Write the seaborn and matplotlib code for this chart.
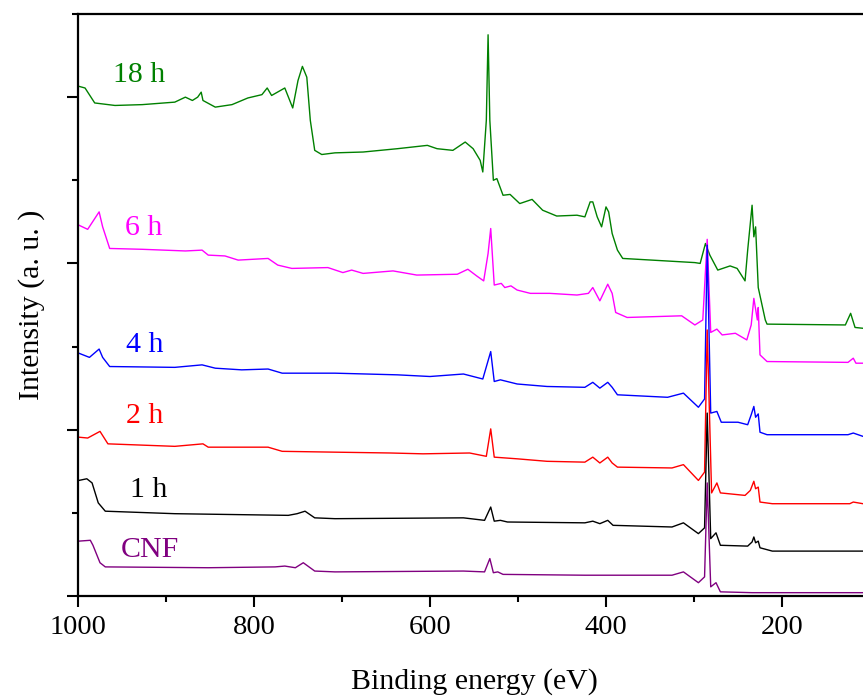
import numpy as np
import pandas as pd
import matplotlib
matplotlib.use("Agg")
import matplotlib.pyplot as plt
import seaborn as sns
from matplotlib.ticker import MultipleLocator, NullFormatter

# Espectros XPS, energía de enlace en eV
ev_18h = [999, 992, 981, 958, 927, 890, 878, 870, 864, 860, 858, 844, 825, 807, 791, 785, 780, 765,
          756, 750, 745, 740, 736, 731, 723, 708, 676, 637, 603, 592, 574, 560, 551, 543, 540, 536,
          534, 532, 528, 524, 517, 509, 498, 484, 472, 456, 433, 424, 418, 415, 410, 405, 400, 397,
          393, 387, 381, 348, 299, 293, 287, 282, 273, 259, 251, 242, 239, 234, 232, 230, 227, 219,
          217, 128, 122, 117, 108, 100]
i_18h = [6.13, 6.11, 5.93, 5.90, 5.91, 5.94, 6.00, 5.96, 6.00, 6.06, 5.96, 5.88, 5.91, 5.99, 6.03,
         6.11, 6.02, 6.11, 5.87, 6.20, 6.37, 6.24, 5.72, 5.36, 5.31, 5.33, 5.34, 5.38, 5.42, 5.38,
         5.36, 5.46, 5.38, 5.24, 5.10, 5.72, 6.75, 5.72, 5.00, 5.02, 4.82, 4.83, 4.72, 4.77, 4.64,
         4.57, 4.58, 4.56, 4.74, 4.74, 4.56, 4.44, 4.68, 4.62, 4.36, 4.16, 4.06, 4.04, 4.01, 4.00,
         4.24, 4.10, 3.92, 3.97, 3.94, 3.79, 4.16, 4.70, 4.32, 4.44, 3.71, 3.32, 3.27, 3.26, 3.40,
         3.23, 3.22, 3.22]

ev_6h = [999, 989, 976, 972, 964, 927, 878, 859, 852, 833, 818, 784, 773, 757, 716, 699, 689, 676,
         642, 615, 569, 557, 547, 539, 534, 531, 527, 519, 515, 508, 501, 486, 464, 433, 420, 415,
         407, 398, 393, 389, 376, 314, 299, 290, 285, 281, 274, 268, 253, 240, 235, 232, 228, 227,
         225, 217, 125, 119, 116, 108, 100]
i_6h = [4.46, 4.41, 4.62, 4.44, 4.18, 4.17, 4.15, 4.16, 4.10, 4.09, 4.04, 4.06, 3.98, 3.94, 3.95,
        3.89, 3.92, 3.88, 3.91, 3.86, 3.87, 3.93, 3.85, 3.79, 4.12, 4.42, 3.74, 3.76, 3.71, 3.73,
        3.68, 3.64, 3.64, 3.62, 3.64, 3.71, 3.55, 3.75, 3.64, 3.41, 3.35, 3.37, 3.26, 3.32, 4.29,
        3.17, 3.21, 3.14, 3.16, 3.08, 3.26, 3.58, 3.32, 3.47, 2.90, 2.82, 2.81, 2.86, 2.80, 2.80,
        2.80]

ev_4h = [999, 987, 976, 972, 964, 890, 859, 844, 814, 784, 768, 708, 637, 600, 562, 540, 531, 527,
         520, 501, 467, 424, 415, 407, 398, 393, 387, 330, 312, 295, 288, 285, 281, 274, 269, 250,
         239, 235, 232, 230, 227, 225, 217, 125, 119, 108, 100]
i_4h = [2.92, 2.87, 2.97, 2.87, 2.76, 2.75, 2.78, 2.74, 2.72, 2.73, 2.68, 2.68, 2.66, 2.64, 2.67,
        2.61, 2.94, 2.58, 2.60, 2.55, 2.52, 2.51, 2.57, 2.50, 2.57, 2.51, 2.42, 2.39, 2.44, 2.27,
        2.37, 4.22, 2.20, 2.22, 2.09, 2.09, 2.06, 2.18, 2.28, 2.15, 2.19, 1.97, 1.94, 1.94, 1.96,
        1.92, 1.92]

ev_2h = [999, 989, 975, 966, 890, 858, 852, 784, 768, 708, 645, 608, 555, 536, 531, 527, 501, 467,
         424, 415, 407, 398, 393, 387, 325, 312, 295, 288, 285, 280, 274, 270, 242, 236, 232, 230,
         227, 225, 211, 123, 119, 108, 100]
i_2h = [1.91, 1.90, 1.98, 1.83, 1.80, 1.83, 1.79, 1.79, 1.74, 1.73, 1.72, 1.71, 1.72, 1.68, 2.01,
        1.67, 1.65, 1.62, 1.61, 1.67, 1.60, 1.67, 1.60, 1.55, 1.54, 1.58, 1.39, 1.49, 3.20, 1.24,
        1.36, 1.24, 1.21, 1.27, 1.38, 1.29, 1.31, 1.13, 1.11, 1.11, 1.13, 1.11, 1.11]

ev_1h = [999, 990, 984, 977, 969, 890, 761, 751, 742, 731, 708, 562, 538, 531, 527, 520, 512, 424,
         415, 407, 398, 392, 325, 312, 295, 288, 285, 281, 275, 270, 239, 234, 232, 230, 227, 225,
         211, 108, 100]
i_1h = [1.39, 1.41, 1.36, 1.12, 1.02, 0.99, 0.97, 0.99, 1.02, 0.94, 0.93, 0.94, 0.91, 1.07, 0.90,
        0.91, 0.89, 0.88, 0.90, 0.87, 0.91, 0.85, 0.83, 0.88, 0.75, 0.82, 2.20, 0.69, 0.76, 0.61,
        0.60, 0.65, 0.71, 0.64, 0.66, 0.58, 0.54, 0.54, 0.54]

ev_cnf = [999, 986, 983, 975, 969, 852, 776, 765, 753, 744, 731, 708, 562, 538, 532, 528, 523, 517,
          424, 325, 312, 295, 288, 285, 281, 275, 270, 234, 108, 100]
i_cnf = [0.66, 0.67, 0.61, 0.40, 0.35, 0.34, 0.35, 0.36, 0.34, 0.40, 0.30, 0.29, 0.30, 0.29, 0.45,
         0.28, 0.29, 0.26, 0.25, 0.25, 0.29, 0.16, 0.23, 1.36, 0.11, 0.16, 0.05, 0.04, 0.04, 0.04]

muestras = ["18 h", "6 h", "4 h", "2 h", "1 h", "CNF"]
colores = ["#008000", "#ff00ff", "#0000ff", "#ff0000", "#000000", "#800080"]
energias = [ev_18h, ev_6h, ev_4h, ev_2h, ev_1h, ev_cnf]
intensidades = [i_18h, i_6h, i_4h, i_2h, i_1h, i_cnf]

# posición de las etiquetas (eV, intensidad)
etiqueta_ev = [960, 947, 945, 946, 941, 951]
etiqueta_i = [6.27, 4.43, 3.02, 2.17, 1.27, 0.55]

sns.set_style("ticks")
plt.rcParams["font.family"] = ["Liberation Serif", "DejaVu Serif"]
plt.rcParams["text.color"] = "black"
plt.rcParams["axes.labelcolor"] = "black"

fig = plt.figure(figsize=(8.63, 6.99), dpi=100)
ax = fig.add_axes([78 / 863, 103 / 699, 792 / 863, 582 / 699])

# de arriba hacia abajo, así los picos de C1s de abajo quedan encima
for nombre, color, ev, inten in zip(muestras, colores, energias, intensidades):
    df = pd.DataFrame({"ev": ev, "i": inten})
    sns.lineplot(data=df, x="ev", y="i", color=color, lw=1.0, sort=False,
                 estimator=None, ax=ax, legend=False)

for nombre, color, xe, yi in zip(muestras, colores, etiqueta_ev, etiqueta_i):
    ax.text(xe, yi, nombre, color=color, fontsize=21.5, ha="left", va="center")

ax.set_xlim(1000, 100)
ax.set_ylim(0, 7)
ax.xaxis.set_major_locator(MultipleLocator(200))
ax.xaxis.set_minor_locator(MultipleLocator(100))
ax.yaxis.set_major_locator(MultipleLocator(2))
ax.yaxis.set_minor_locator(MultipleLocator(1))
ax.yaxis.set_major_formatter(NullFormatter())

ax.tick_params(axis="both", which="major", direction="out", length=8, width=1.5,
               labelsize=20.5, color="black", labelcolor="black")
ax.tick_params(axis="both", which="minor", direction="out", length=4, width=1.5,
               color="black")
ax.tick_params(axis="x", which="major", pad=6)

for lado in ["left", "bottom", "top", "right"]:
    ax.spines[lado].set_visible(True)
    ax.spines[lado].set_linewidth(1.6)
    ax.spines[lado].set_color("black")

ax.set_xlabel("Binding energy (eV)", fontsize=21.5, labelpad=20)
ax.set_ylabel("Intensity (a. u. )", fontsize=21.5, labelpad=12)
ax.grid(False)

fig.savefig("out.png", dpi=100)
plt.close(fig)
